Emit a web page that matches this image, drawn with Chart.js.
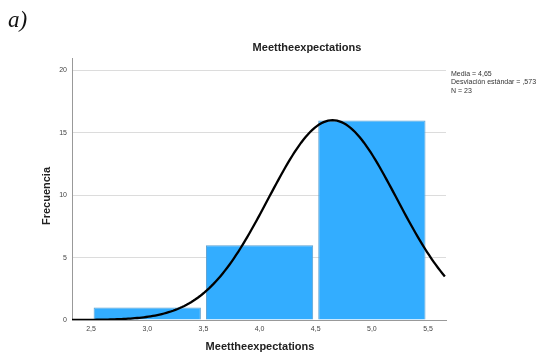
<!DOCTYPE html>
<html><head><meta charset="utf-8">
<script src="https://cdn.jsdelivr.net/npm/chart.js@4/dist/chart.umd.min.js"></script>
<style>
html,body{margin:0;padding:0;background:#fff;}
#wrap{position:relative;width:537px;height:353px;}
#lab{position:absolute;left:8px;top:7px;font:italic 23px "Liberation Serif",serif;color:#111;}
</style></head><body>
<div id="wrap"><div id="lab">a)</div><canvas id="c" width="537" height="353"></canvas></div>
<script>
const binCenters = [3, 4, 5];
const frequencies = [1, 6, 16];
const xTicks = [2.5, 3.0, 3.5, 4.0, 4.5, 5.0, 5.5];
const yTicks = [0, 5, 10, 15, 20];
const mean = 4.65, sd = 0.573, nObs = 23, binWidth = 1;
const statsText = ["Media = 4,65", "Desviación estándar = ,573", "N = 23"];
const titleText = "Meettheexpectations";
const xMin = 2.33, xMax = 5.66;

const curve = [];
for (let x = xMin; x <= xMax + 1e-9; x += 0.02) {
  const y = nObs * binWidth / (sd * Math.sqrt(2 * Math.PI)) * Math.exp(-0.5 * ((x - mean) / sd) ** 2);
  curve.push({x: x, y: y});
}

const textPlugin = {
  id: 'texts',
  afterDraw(chart) {
    const ctx = chart.ctx;
    ctx.save();
    ctx.fillStyle = '#222';
    ctx.textAlign = 'center';
    ctx.textBaseline = 'middle';
    ctx.font = 'bold 11px "Liberation Sans", Arial, sans-serif';
    ctx.fillText(titleText, 307, 48);
    ctx.fillText(titleText, 260, 347);
    ctx.save();
    ctx.translate(47, 196);
    ctx.rotate(-Math.PI / 2);
    ctx.fillText("Frecuencia", 0, 0);
    ctx.restore();
    ctx.textAlign = 'left';
    ctx.font = '7px "Liberation Sans", Arial, sans-serif';
    ctx.fillStyle = '#333';
    statsText.forEach((t, i) => ctx.fillText(t, 451, 74 + i * 8.3));
    ctx.restore();
  }
};

new Chart(document.getElementById('c'), {
  data: {
    datasets: [
      {type: 'line', data: curve, borderColor: '#000', borderWidth: 2.3, pointRadius: 0, tension: 0, order: 0},
      {type: 'bar', data: binCenters.map((x, i) => ({x: x, y: frequencies[i]})),
       backgroundColor: '#33adff', borderColor: '#5a9fd0', borderWidth: 1,
       categoryPercentage: 1, barPercentage: 1.91, order: 1}
    ]
  },
  options: {
    responsive: false, animation: false,
    layout: {padding: {left: 0, right: 91, top: 58, bottom: 0}},
    plugins: {legend: {display: false}, tooltip: {enabled: false}},
    scales: {
      x: {type: 'linear', min: xMin, max: xMax, offset: false,
        afterBuildTicks: s => { s.ticks = xTicks.map(v => ({value: v})); },
        afterFit: s => { s.height = 33; },
        grid: {display: false, drawTicks: false},
        border: {color: '#999', width: 1},
        ticks: {callback: v => v.toFixed(1).replace('.', ','), font: {size: 7, family: 'Liberation Sans'}, color: '#444', padding: 5, maxRotation: 0}
      },
      y: {min: 0, max: 21,
        afterBuildTicks: s => { s.ticks = yTicks.map(v => ({value: v})); },
        afterFit: s => { s.width = 72; },
        grid: {color: c => c.tick && c.tick.value === 0 ? 'rgba(0,0,0,0)' : '#dcdcdc', drawTicks: false},
        border: {color: '#999', width: 1},
        ticks: {font: {size: 7, family: 'Liberation Sans'}, color: '#444', padding: 5}
      }
    }
  },
  plugins: [textPlugin]
});
</script>
</body></html>
